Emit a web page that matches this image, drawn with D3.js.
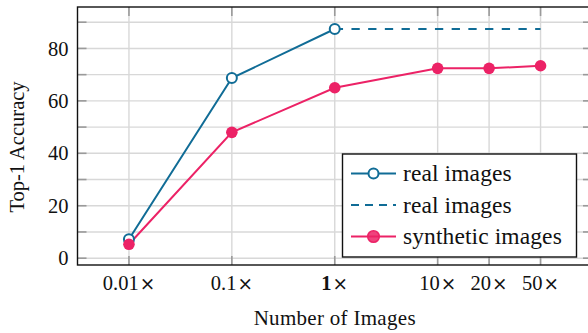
<!DOCTYPE html>
<html>
<head>
<meta charset="utf-8">
<script src="https://cdn.jsdelivr.net/npm/d3@7"></script>
<style>
  body { margin: 0; background: #fff; }
  text { font-family: "Liberation Serif", "Times New Roman", serif; fill: #111; }
  .times { font-family: "DejaVu Serif", serif; }
</style>
</head>
<body>
<svg id="chart" width="588" height="333"></svg>
<script>
// Amount of training images, relative to the real dataset size
const scaleLabels = ["0.01", "0.1", "1", "10", "20", "50"];
// Top-1 accuracy of the classifier
const realAcc = [7.2, 68.7, 87.4];
const synthAcc = [5.3, 48.0, 65.0, 72.4, 72.4, 73.4];
const yTickValues = [0, 20, 40, 60, 80];
const yGridValues = [0, 10, 20, 30, 40, 50, 60, 70, 80, 90];
const legendLabels = ["real images", "real images", "synthetic images"];

const BLUE = "#106c96";
const PINK = "#ec2266";

// slot of each category along the x axis (10x..50x are packed closer)
const xSlot = [0, 1, 2, 3, 3.5, 4];

const svg = d3.select("#chart");
const plot = { left: 77.5, right: 592, top: 7, bottom: 265 };

const x = d3.scaleLinear().domain([-0.5, 4.5]).range([plot.left, plot.right]);
const y = d3.scaleLinear().domain([-2.6, 95.8]).range([plot.bottom, plot.top]);
const xi = i => x(xSlot[i]);

// grid
const grid = svg.append("g").attr("stroke", "#d8d8d8").attr("stroke-width", 1.4);
scaleLabels.forEach((_, i) => {
  grid.append("line").attr("x1", xi(i)).attr("x2", xi(i)).attr("y1", plot.top).attr("y2", plot.bottom);
});
yGridValues.forEach(v => {
  grid.append("line").attr("x1", plot.left).attr("x2", plot.right).attr("y1", y(v)).attr("y2", y(v));
});

// inward tick marks on all four sides
const ticks = svg.append("g").attr("stroke", "#9a9a9a").attr("stroke-width", 1.6);
const tl = 9;
scaleLabels.forEach((_, i) => {
  ticks.append("line").attr("x1", xi(i)).attr("x2", xi(i)).attr("y1", plot.top).attr("y2", plot.top + tl);
  ticks.append("line").attr("x1", xi(i)).attr("x2", xi(i)).attr("y1", plot.bottom).attr("y2", plot.bottom - tl);
});
yGridValues.forEach(v => {
  ticks.append("line").attr("x1", plot.left).attr("x2", plot.left + tl).attr("y1", y(v)).attr("y2", y(v));
  ticks.append("line").attr("x1", plot.right).attr("x2", plot.right - tl).attr("y1", y(v)).attr("y2", y(v));
});

// frame
svg.append("rect")
  .attr("x", plot.left).attr("y", plot.top)
  .attr("width", plot.right - plot.left).attr("height", plot.bottom - plot.top)
  .attr("fill", "none").attr("stroke", "#111").attr("stroke-width", 1.4);

// y tick labels
svg.append("g").selectAll("text").data(yTickValues).join("text")
  .attr("x", plot.left - 9).attr("y", d => y(d)).attr("dy", "0.35em")
  .attr("text-anchor", "end").attr("font-size", 20.5).text(d => d);

// x tick labels (the 1x reference size is bold)
const xl = svg.append("g").selectAll("text").data(scaleLabels).join("text")
  .attr("x", (d, i) => xi(i)).attr("y", 290)
  .attr("text-anchor", "middle").attr("font-size", 20.5);
xl.append("tspan").attr("font-weight", d => d === "1" ? "bold" : "normal").text(d => d);
xl.append("tspan").attr("class", "times").attr("font-size", 18.5).attr("dx", 1).text("\u00d7");

// axis titles
svg.append("text").attr("x", (plot.left + plot.right) / 2).attr("y", 325)
  .attr("text-anchor", "middle").attr("font-size", 21).attr("letter-spacing", 0.3)
  .text("Number of Images");
svg.append("text").attr("transform", "translate(24,147) rotate(-90)")
  .attr("text-anchor", "middle").attr("font-size", 20.5).text("Top-1 Accuracy");

const line = d3.line().x(d => xi(d.i)).y(d => y(d.v));
const realPts = realAcc.map((v, i) => ({ i, v }));
const synthPts = synthAcc.map((v, i) => ({ i, v }));
const last = realPts[realPts.length - 1];
const refPts = [last, { i: scaleLabels.length - 1, v: last.v }];

// dashed continuation of the real-data accuracy
svg.append("path").attr("d", line(refPts)).attr("fill", "none")
  .attr("stroke", BLUE).attr("stroke-width", 2).attr("stroke-dasharray", "8.3,8.4");

svg.append("path").attr("d", line(synthPts)).attr("fill", "none")
  .attr("stroke", PINK).attr("stroke-width", 2);
svg.append("path").attr("d", line(realPts)).attr("fill", "none")
  .attr("stroke", BLUE).attr("stroke-width", 2);

svg.append("g").selectAll("circle").data(realPts).join("circle")
  .attr("cx", d => xi(d.i)).attr("cy", d => y(d.v)).attr("r", 5)
  .attr("fill", "#fff").attr("stroke", BLUE).attr("stroke-width", 2);
svg.append("g").selectAll("circle").data(synthPts).join("circle")
  .attr("cx", d => xi(d.i)).attr("cy", d => y(d.v)).attr("r", 5.8)
  .attr("fill", PINK);

// legend
const lg = svg.append("g");
lg.append("rect").attr("x", 342.5).attr("y", 154).attr("width", 234).attr("height", 103)
  .attr("fill", "#fff").attr("stroke", "#111").attr("stroke-width", 1.4);
const rows = [173.5, 205, 236.5];
const styles = [
  { dash: null, marker: "open" },
  { dash: "8,6", marker: null },
  { dash: null, marker: "filled" }
];
legendLabels.forEach((lab, k) => {
  const col = k < 2 ? BLUE : PINK;
  const ry = rows[k];
  lg.append("line").attr("x1", 351).attr("x2", 396).attr("y1", ry).attr("y2", ry)
    .attr("stroke", col).attr("stroke-width", 2).attr("stroke-dasharray", styles[k].dash);
  if (styles[k].marker === "open") {
    lg.append("circle").attr("cx", 373.5).attr("cy", ry).attr("r", 5)
      .attr("fill", "#fff").attr("stroke", col).attr("stroke-width", 2);
  } else if (styles[k].marker === "filled") {
    lg.append("circle").attr("cx", 373.5).attr("cy", ry).attr("r", 5.8)
      .attr("fill", col).attr("fill-opacity", 0.85).attr("stroke", col).attr("stroke-width", 1.5);
  }
  lg.append("text").attr("x", 403).attr("y", ry).attr("dy", "0.33em")
    .attr("font-size", 23.5).attr("letter-spacing", 0.1).text(lab);
});
</script>
</body>
</html>
